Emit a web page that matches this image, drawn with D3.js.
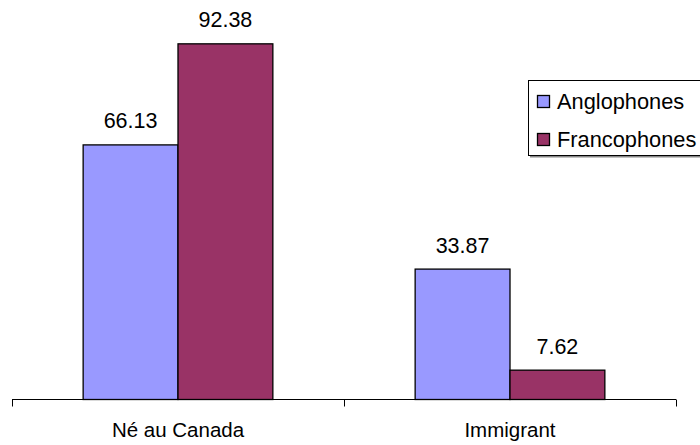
<!DOCTYPE html>
<html>
<head>
<meta charset="utf-8">
<script src="https://cdn.jsdelivr.net/npm/d3@7/dist/d3.min.js"></script>
<style>
html,body{margin:0;padding:0;background:#fff;}
svg{display:block;}
text{font-family:"Liberation Sans",Arial,sans-serif;fill:#000;}
</style>
</head>
<body>
<svg id="chart" width="700" height="445"></svg>
<script>
const categories = ["Né au Canada", "Immigrant"];
const seriesNames = ["Anglophones", "Francophones"];
const anglophones = [66.13, 33.87];
const francophones = [92.38, 7.62];
const seriesColors = ["#9999FF", "#993366"];

const svg = d3.select("#chart");
const x0 = d3.scaleBand().domain(categories).range([12, 676]).paddingInner(0).paddingOuter(0);
const x1 = d3.scaleBand().domain(seriesNames).range([0, x0.bandwidth()]).paddingOuter(0.75).paddingInner(0);
const y = d3.scaleLinear().domain([0, 100]).range([399.5, 14.5]);

const seriesData = [anglophones, francophones];
const groups = svg.append("g").selectAll("g").data(categories).join("g")
  .attr("transform", d => `translate(${x0(d)},0)`);

groups.selectAll("rect").data((c, i) => seriesNames.map((s, j) => ({s, v: seriesData[j][i], j})))
  .join("rect")
  .attr("x", d => x1(d.s))
  .attr("y", d => y(d.v))
  .attr("width", x1.bandwidth())
  .attr("height", d => y(0) - y(d.v))
  .attr("fill", d => seriesColors[d.j])
  .attr("stroke", "#000")
  .attr("stroke-width", 1.3);

groups.selectAll("text.val").data((c, i) => seriesNames.map((s, j) => ({s, v: seriesData[j][i]})))
  .join("text")
  .attr("class", "val")
  .attr("x", d => x1(d.s) + x1.bandwidth() / 2)
  .attr("y", d => y(d.v) - 16.5)
  .attr("text-anchor", "middle")
  .style("font-size", "21.5px")
  .text(d => d.v.toFixed(2));

// x axis
const axis = svg.append("g").attr("transform", "translate(0,399.5)")
  .call(d3.axisBottom(x0).tickSize(0).tickPadding(0));
axis.select(".domain").remove();
axis.selectAll("text").remove();
axis.append("line").attr("x1", 12).attr("x2", 676).attr("stroke", "#000").attr("stroke-width", 1);
const edges = [x0(categories[0]), x0(categories[1]), x0(categories[1]) + x0.bandwidth()];
axis.selectAll("line.tk").data(edges).join("line").attr("class", "tk")
  .attr("x1", d => Math.round(d) + 0.5).attr("x2", d => Math.round(d) + 0.5)
  .attr("y1", 0).attr("y2", 7).attr("stroke", "#000");
axis.selectAll("text.cat").data(categories).join("text").attr("class", "cat")
  .attr("x", d => x0(d) + x0.bandwidth() / 2)
  .attr("y", 37.5)
  .attr("text-anchor", "middle")
  .style("font-size", "20.5px")
  .text(d => d);

// legend
const lg = svg.append("g");
lg.append("rect").attr("x", 530).attr("y", 81.5).attr("width", 180).attr("height", 76).attr("fill", "#888");
lg.append("rect").attr("x", 528.5).attr("y", 80.5).attr("width", 180).attr("height", 75).attr("fill", "#fff").attr("stroke", "#000").attr("stroke-width", 1);
const items = lg.selectAll("g.it").data(seriesNames).join("g").attr("class", "it")
  .attr("transform", (d, i) => `translate(0,${i * 38})`);
items.append("rect").attr("x", 537.5).attr("y", 95.5).attr("width", 12).attr("height", 12)
  .attr("fill", (d, i) => seriesColors[i]).attr("stroke", "#000").attr("stroke-width", 1.3);
items.append("text").attr("x", 557).attr("y", 108.5).style("font-size", "21.8px").text(d => d);
</script>
</body>
</html>
